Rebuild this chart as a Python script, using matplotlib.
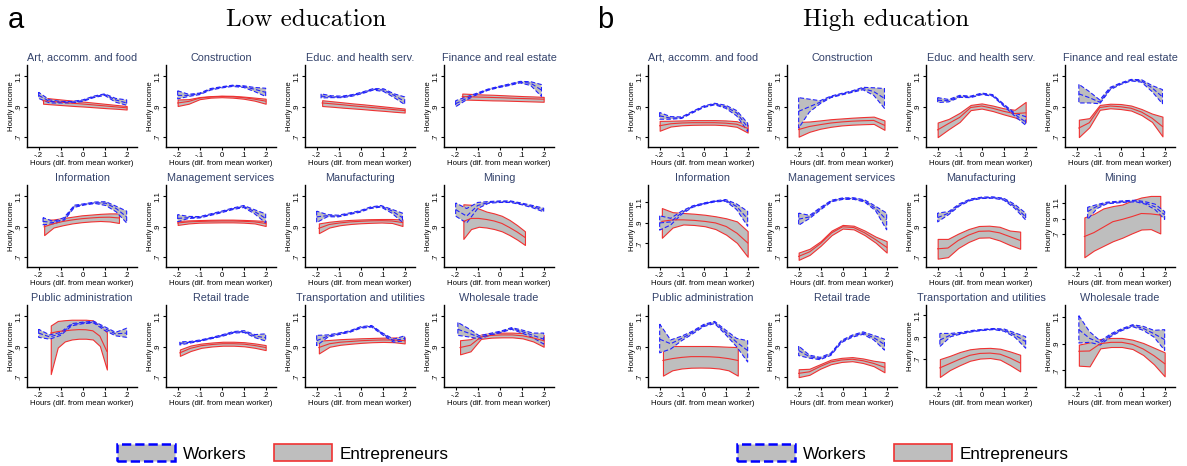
import numpy as np
import matplotlib.pyplot as plt
from matplotlib.patches import Patch

plt.rcParams['font.family'] = ['Liberation Sans', 'DejaVu Sans']

INDUSTRIES = ["Art, accomm. and food", "Construction", "Educ. and health serv.",
              "Finance and real estate", "Information", "Management services",
              "Manufacturing", "Mining", "Public administration", "Retail trade",
              "Transportation and utilities", "Wholesale trade"]

XTICKS = [-0.2, -0.1, 0, 0.1, 0.2]
XTICKLABELS = ["-.2", "-.1", "0", ".1", ".2"]
YTICKS = [0.7, 0.9, 1.1]
YTICKLABELS = [".7", ".9", "1.1"]

# each entry: x range of the estimate, then 9 evenly spaced points for
# lower bound, fitted value, upper bound
low_workers = {
    "Art, accomm. and food": dict(x=(-0.2, 0.2),
        lo=[0.955, 0.925, 0.925, 0.925, 0.935, 0.960, 0.975, 0.930, 0.910],
        mid=[0.975, 0.935, 0.930, 0.930, 0.940, 0.965, 0.980, 0.945, 0.925],
        hi=[0.995, 0.945, 0.935, 0.935, 0.945, 0.970, 0.985, 0.955, 0.945]),
    "Construction": dict(x=(-0.2, 0.2),
        lo=[0.952, 0.968, 0.980, 1.010, 1.024, 1.034, 1.027, 1.000, 0.968],
        mid=[0.975, 0.975, 0.985, 1.015, 1.028, 1.038, 1.033, 1.015, 0.995],
        hi=[1.005, 0.982, 0.990, 1.020, 1.032, 1.042, 1.038, 1.027, 1.022]),
    "Educ. and health serv.": dict(x=(-0.18, 0.2),
        lo=[0.958, 0.960, 0.960, 0.970, 0.988, 1.010, 1.000, 0.960, 0.915],
        mid=[0.970, 0.965, 0.965, 0.975, 0.993, 1.015, 1.010, 0.975, 0.935],
        hi=[0.985, 0.972, 0.970, 0.980, 0.998, 1.020, 1.018, 0.985, 0.965]),
    "Finance and real estate": dict(x=(-0.2, 0.19),
        lo=[0.900, 0.945, 0.980, 1.008, 1.026, 1.040, 1.057, 1.040, 0.968],
        mid=[0.920, 0.955, 0.985, 1.012, 1.030, 1.045, 1.062, 1.055, 1.010],
        hi=[0.940, 0.965, 0.990, 1.016, 1.034, 1.050, 1.067, 1.065, 1.046]),
    "Information": dict(x=(-0.18, 0.2),
        lo=[0.913, 0.920, 0.940, 1.028, 1.044, 1.053, 1.040, 0.998, 0.925],
        mid=[0.935, 0.928, 0.950, 1.035, 1.048, 1.058, 1.055, 1.020, 0.965],
        hi=[0.960, 0.935, 0.960, 1.042, 1.052, 1.063, 1.065, 1.035, 1.003]),
    "Management services": dict(x=(-0.2, 0.2),
        lo=[0.933, 0.955, 0.958, 0.975, 0.993, 1.013, 1.027, 0.985, 0.925],
        mid=[0.955, 0.960, 0.962, 0.980, 0.998, 1.018, 1.033, 1.000, 0.955],
        hi=[0.980, 0.968, 0.967, 0.985, 1.003, 1.023, 1.040, 1.012, 0.985]),
    "Manufacturing": dict(x=(-0.2, 0.19),
        lo=[0.928, 0.966, 0.965, 0.980, 0.995, 1.020, 1.030, 0.990, 0.930],
        mid=[0.965, 0.973, 0.970, 0.985, 1.000, 1.025, 1.035, 1.005, 0.960],
        hi=[1.003, 0.980, 0.976, 0.990, 1.005, 1.030, 1.040, 1.015, 0.990]),
    "Mining": dict(x=(-0.2, 0.2),
        lo=[0.970, 0.925, 1.020, 1.055, 1.060, 1.060, 1.045, 1.025, 0.998],
        mid=[1.013, 0.970, 1.040, 1.060, 1.065, 1.065, 1.050, 1.033, 1.010],
        hi=[1.057, 1.020, 1.060, 1.066, 1.070, 1.070, 1.056, 1.040, 1.022]),
    "Public administration": dict(x=(-0.2, 0.2),
        lo=[0.962, 0.950, 0.975, 1.038, 1.052, 1.057, 1.008, 0.972, 0.962],
        mid=[0.990, 0.965, 0.985, 1.045, 1.057, 1.062, 1.020, 0.985, 0.990],
        hi=[1.015, 0.978, 0.995, 1.052, 1.062, 1.068, 1.032, 0.995, 1.022]),
    "Retail trade": dict(x=(-0.19, 0.2),
        lo=[0.912, 0.925, 0.938, 0.954, 0.970, 0.990, 0.994, 0.960, 0.938],
        mid=[0.922, 0.930, 0.942, 0.958, 0.975, 0.995, 1.000, 0.970, 0.960],
        hi=[0.932, 0.935, 0.946, 0.962, 0.980, 1.000, 1.006, 0.980, 0.985]),
    "Transportation and utilities": dict(x=(-0.2, 0.2),
        lo=[0.908, 0.962, 0.980, 0.995, 1.022, 1.030, 0.978, 0.930, 0.940],
        mid=[0.940, 0.970, 0.985, 1.000, 1.027, 1.035, 0.985, 0.940, 0.955],
        hi=[0.975, 0.978, 0.990, 1.005, 1.032, 1.040, 0.990, 0.950, 0.972]),
    "Wholesale trade": dict(x=(-0.19, 0.2),
        lo=[0.975, 0.965, 0.952, 0.975, 0.993, 1.015, 0.990, 0.960, 0.918],
        mid=[1.015, 0.990, 0.962, 0.980, 0.998, 1.020, 1.000, 0.975, 0.950],
        hi=[1.060, 1.020, 0.972, 0.988, 1.003, 1.026, 1.010, 0.990, 0.990]),
}

low_entrepreneurs = {
    "Art, accomm. and food": dict(x=(-0.18, 0.2),
        lo=[0.920, 0.915, 0.910, 0.905, 0.901, 0.896, 0.891, 0.887, 0.882],
        mid=[0.940, 0.934, 0.928, 0.922, 0.917, 0.911, 0.905, 0.899, 0.893],
        hi=[0.960, 0.953, 0.946, 0.939, 0.933, 0.926, 0.919, 0.912, 0.905]),
    "Construction": dict(x=(-0.2, 0.2),
        lo=[0.905, 0.920, 0.950, 0.960, 0.963, 0.960, 0.953, 0.940, 0.920],
        mid=[0.925, 0.935, 0.957, 0.965, 0.968, 0.966, 0.960, 0.950, 0.937],
        hi=[0.948, 0.950, 0.964, 0.970, 0.973, 0.972, 0.967, 0.960, 0.953]),
    "Educ. and health serv.": dict(x=(-0.175, 0.2),
        lo=[0.905, 0.900, 0.894, 0.889, 0.884, 0.878, 0.873, 0.867, 0.862],
        mid=[0.925, 0.919, 0.913, 0.906, 0.900, 0.894, 0.888, 0.881, 0.875],
        hi=[0.943, 0.936, 0.929, 0.922, 0.916, 0.909, 0.902, 0.895, 0.888]),
    "Finance and real estate": dict(x=(-0.17, 0.2),
        lo=[0.948, 0.946, 0.944, 0.942, 0.941, 0.939, 0.937, 0.935, 0.933],
        mid=[0.967, 0.965, 0.963, 0.961, 0.959, 0.956, 0.954, 0.952, 0.950],
        hi=[0.987, 0.984, 0.981, 0.979, 0.976, 0.973, 0.970, 0.968, 0.965]),
    "Information": dict(x=(-0.175, 0.165),
        lo=[0.845, 0.895, 0.910, 0.922, 0.930, 0.935, 0.938, 0.935, 0.925],
        mid=[0.900, 0.920, 0.935, 0.945, 0.953, 0.958, 0.962, 0.963, 0.958],
        hi=[0.945, 0.948, 0.957, 0.966, 0.975, 0.980, 0.985, 0.988, 0.988]),
    "Management services": dict(x=(-0.2, 0.2),
        lo=[0.912, 0.922, 0.927, 0.928, 0.929, 0.929, 0.927, 0.922, 0.905],
        mid=[0.925, 0.932, 0.935, 0.937, 0.938, 0.938, 0.936, 0.932, 0.922],
        hi=[0.938, 0.942, 0.944, 0.946, 0.947, 0.947, 0.945, 0.942, 0.938]),
    "Manufacturing": dict(x=(-0.19, 0.19),
        lo=[0.858, 0.895, 0.910, 0.918, 0.923, 0.926, 0.928, 0.925, 0.905],
        mid=[0.890, 0.915, 0.925, 0.932, 0.936, 0.939, 0.940, 0.938, 0.928],
        hi=[0.922, 0.933, 0.940, 0.945, 0.948, 0.950, 0.951, 0.951, 0.948]),
    "Mining": dict(x=(-0.165, 0.115),
        lo=[0.820, 0.885, 0.900, 0.895, 0.885, 0.870, 0.845, 0.815, 0.780],
        mid=[0.935, 0.955, 0.955, 0.948, 0.938, 0.922, 0.895, 0.865, 0.830],
        hi=[1.048, 1.045, 1.020, 1.000, 0.988, 0.972, 0.945, 0.910, 0.870]),
    "Public administration": dict(x=(-0.145, 0.11),
        lo=[0.720, 0.895, 0.935, 0.948, 0.953, 0.953, 0.948, 0.905, 0.750],
        mid=[0.990, 1.000, 1.005, 1.010, 1.013, 1.012, 1.005, 0.970, 0.870],
        hi=[1.040, 1.070, 1.075, 1.078, 1.078, 1.078, 1.074, 1.040, 0.995]),
    "Retail trade": dict(x=(-0.19, 0.2),
        lo=[0.840, 0.872, 0.893, 0.902, 0.907, 0.907, 0.903, 0.893, 0.878],
        mid=[0.860, 0.890, 0.907, 0.915, 0.920, 0.920, 0.917, 0.908, 0.895],
        hi=[0.882, 0.908, 0.921, 0.928, 0.933, 0.933, 0.930, 0.922, 0.911]),
    "Transportation and utilities": dict(x=(-0.19, 0.2),
        lo=[0.856, 0.900, 0.913, 0.920, 0.926, 0.930, 0.932, 0.930, 0.922],
        mid=[0.895, 0.920, 0.930, 0.935, 0.940, 0.943, 0.945, 0.944, 0.940],
        hi=[0.940, 0.945, 0.950, 0.953, 0.956, 0.958, 0.960, 0.961, 0.961]),
    "Wholesale trade": dict(x=(-0.18, 0.2),
        lo=[0.850, 0.870, 0.952, 0.960, 0.962, 0.962, 0.955, 0.935, 0.900],
        mid=[0.895, 0.910, 0.965, 0.975, 0.978, 0.978, 0.972, 0.958, 0.940],
        hi=[0.943, 0.950, 0.980, 0.990, 0.993, 0.993, 0.990, 0.983, 0.978]),
}

high_workers = {
    "Art, accomm. and food": dict(x=(-0.2, 0.2),
        lo=[0.818, 0.818, 0.823, 0.860, 0.895, 0.913, 0.890, 0.840, 0.738],
        mid=[0.840, 0.825, 0.828, 0.865, 0.900, 0.918, 0.900, 0.860, 0.765],
        hi=[0.862, 0.835, 0.833, 0.870, 0.905, 0.923, 0.910, 0.875, 0.792]),
    "Construction": dict(x=(-0.2, 0.19),
        lo=[0.760, 0.865, 0.920, 0.960, 0.978, 0.995, 1.012, 0.975, 0.890],
        mid=[0.870, 0.900, 0.930, 0.965, 0.983, 1.000, 1.020, 1.000, 0.955],
        hi=[0.960, 0.950, 0.940, 0.970, 0.988, 1.005, 1.028, 1.025, 1.020]),
    "Educ. and health serv.": dict(x=(-0.2, 0.2),
        lo=[0.928, 0.932, 0.962, 0.960, 0.980, 0.970, 0.905, 0.840, 0.778],
        mid=[0.943, 0.940, 0.968, 0.965, 0.985, 0.975, 0.912, 0.850, 0.800],
        hi=[0.960, 0.948, 0.975, 0.970, 0.990, 0.980, 0.918, 0.858, 0.835]),
    "Finance and real estate": dict(x=(-0.19, 0.19),
        lo=[0.925, 0.925, 0.920, 1.012, 1.047, 1.070, 1.062, 1.000, 0.920],
        mid=[0.985, 0.960, 0.930, 1.020, 1.052, 1.075, 1.070, 1.025, 0.965],
        hi=[1.048, 1.000, 0.945, 1.028, 1.057, 1.080, 1.078, 1.040, 1.013]),
    "Information": dict(x=(-0.2, 0.2),
        lo=[0.830, 0.880, 0.985, 1.053, 1.082, 1.105, 1.112, 1.030, 0.868],
        mid=[0.900, 0.910, 1.000, 1.060, 1.088, 1.110, 1.120, 1.060, 0.940],
        hi=[0.970, 0.945, 1.015, 1.067, 1.094, 1.116, 1.128, 1.085, 1.013]),
    "Management services": dict(x=(-0.2, 0.2),
        lo=[0.910, 0.955, 1.012, 1.065, 1.080, 1.081, 1.063, 1.005, 0.880],
        mid=[0.950, 0.965, 1.020, 1.070, 1.085, 1.086, 1.070, 1.020, 0.945],
        hi=[0.990, 0.975, 1.028, 1.075, 1.090, 1.091, 1.077, 1.035, 0.990]),
    "Manufacturing": dict(x=(-0.2, 0.2),
        lo=[0.932, 0.980, 1.038, 1.073, 1.086, 1.088, 1.076, 1.022, 0.945],
        mid=[0.960, 0.990, 1.045, 1.078, 1.090, 1.092, 1.082, 1.035, 0.965],
        hi=[0.990, 1.000, 1.052, 1.083, 1.095, 1.097, 1.088, 1.048, 0.990]),
    "Mining": dict(x=(-0.15, 0.2),
        lo=[0.890, 1.030, 1.090, 1.100, 1.110, 1.115, 1.085, 1.015, 0.890],
        mid=[0.990, 1.060, 1.100, 1.110, 1.120, 1.125, 1.100, 1.050, 0.947],
        hi=[1.045, 1.080, 1.110, 1.120, 1.130, 1.135, 1.115, 1.085, 0.990]),
    "Public administration": dict(x=(-0.2, 0.2),
        lo=[0.860, 0.885, 0.940, 0.985, 1.033, 1.053, 0.980, 0.900, 0.800],
        mid=[0.950, 0.920, 0.955, 0.995, 1.040, 1.060, 0.995, 0.930, 0.875],
        hi=[1.050, 0.945, 0.970, 1.003, 1.047, 1.067, 1.010, 0.955, 0.940]),
    "Retail trade": dict(x=(-0.2, 0.19),
        lo=[0.842, 0.825, 0.815, 0.843, 0.928, 0.963, 0.982, 0.945, 0.878],
        mid=[0.875, 0.835, 0.822, 0.850, 0.935, 0.970, 0.990, 0.960, 0.915],
        hi=[0.905, 0.845, 0.830, 0.858, 0.942, 0.977, 0.998, 0.975, 0.950]),
    "Transportation and utilities": dict(x=(-0.19, 0.2),
        lo=[0.815, 0.905, 0.930, 0.950, 0.962, 0.970, 0.955, 0.900, 0.800],
        mid=[0.875, 0.920, 0.937, 0.955, 0.967, 0.975, 0.965, 0.920, 0.860],
        hi=[0.935, 0.935, 0.945, 0.962, 0.972, 0.980, 0.975, 0.940, 0.905]),
    "Wholesale trade": dict(x=(-0.19, 0.2),
        lo=[0.905, 0.910, 0.890, 0.955, 0.998, 1.028, 1.000, 0.950, 0.850],
        mid=[1.005, 0.940, 0.905, 0.965, 1.005, 1.035, 1.015, 0.975, 0.930],
        hi=[1.110, 0.990, 0.920, 0.975, 1.012, 1.042, 1.030, 1.000, 1.005]),
}

high_entrepreneurs = {
    "Art, accomm. and food": dict(x=(-0.2, 0.2),
        lo=[0.742, 0.770, 0.778, 0.781, 0.782, 0.782, 0.778, 0.768, 0.730],
        mid=[0.775, 0.788, 0.793, 0.795, 0.795, 0.795, 0.792, 0.785, 0.758],
        hi=[0.807, 0.808, 0.810, 0.812, 0.812, 0.812, 0.810, 0.805, 0.782]),
    "Construction": dict(x=(-0.2, 0.19),
        lo=[0.703, 0.735, 0.755, 0.768, 0.777, 0.782, 0.785, 0.787, 0.748],
        mid=[0.750, 0.770, 0.782, 0.793, 0.800, 0.805, 0.808, 0.810, 0.778],
        hi=[0.800, 0.803, 0.810, 0.818, 0.823, 0.828, 0.832, 0.835, 0.810]),
    "Educ. and health serv.": dict(x=(-0.2, 0.2),
        lo=[0.700, 0.752, 0.800, 0.878, 0.888, 0.872, 0.850, 0.830, 0.800],
        mid=[0.748, 0.790, 0.830, 0.895, 0.905, 0.890, 0.870, 0.855, 0.860],
        hi=[0.796, 0.820, 0.860, 0.912, 0.922, 0.908, 0.890, 0.880, 0.932]),
    "Finance and real estate": dict(x=(-0.19, 0.19),
        lo=[0.700, 0.765, 0.880, 0.890, 0.885, 0.875, 0.845, 0.800, 0.705],
        mid=[0.760, 0.795, 0.895, 0.905, 0.900, 0.890, 0.865, 0.825, 0.770],
        hi=[0.815, 0.825, 0.912, 0.920, 0.918, 0.908, 0.885, 0.855, 0.835]),
    "Information": dict(x=(-0.19, 0.2),
        lo=[0.755, 0.855, 0.885, 0.880, 0.868, 0.840, 0.785, 0.705, 0.570],
        mid=[0.915, 0.930, 0.930, 0.925, 0.915, 0.900, 0.865, 0.800, 0.705],
        hi=[1.045, 1.005, 0.997, 0.990, 0.980, 0.965, 0.945, 0.915, 0.820]),
    "Management services": dict(x=(-0.2, 0.2),
        lo=[0.682, 0.715, 0.775, 0.845, 0.888, 0.883, 0.845, 0.795, 0.730],
        mid=[0.705, 0.735, 0.790, 0.860, 0.900, 0.895, 0.860, 0.815, 0.765],
        hi=[0.730, 0.755, 0.805, 0.875, 0.912, 0.907, 0.875, 0.835, 0.805]),
    "Manufacturing": dict(x=(-0.2, 0.175),
        lo=[0.690, 0.700, 0.760, 0.800, 0.828, 0.830, 0.810, 0.780, 0.755],
        mid=[0.755, 0.760, 0.810, 0.845, 0.870, 0.872, 0.860, 0.835, 0.810],
        hi=[0.820, 0.820, 0.855, 0.885, 0.905, 0.907, 0.900, 0.875, 0.868]),
    "Mining": dict(x=(-0.165, 0.18),
        lo=[0.405, 0.490, 0.550, 0.610, 0.655, 0.710, 0.760, 0.765, 0.710],
        mid=[0.670, 0.720, 0.790, 0.860, 0.890, 0.925, 0.965, 0.960, 0.945],
        hi=[0.915, 0.960, 1.030, 1.060, 1.080, 1.130, 1.170, 1.190, 1.190]),
    "Public administration": dict(x=(-0.185, 0.155),
        lo=[0.710, 0.745, 0.757, 0.762, 0.763, 0.762, 0.757, 0.745, 0.710],
        mid=[0.810, 0.822, 0.830, 0.835, 0.835, 0.834, 0.830, 0.822, 0.810],
        hi=[0.905, 0.905, 0.905, 0.905, 0.905, 0.905, 0.903, 0.900, 0.898]),
    "Retail trade": dict(x=(-0.2, 0.19),
        lo=[0.700, 0.715, 0.755, 0.785, 0.800, 0.805, 0.793, 0.772, 0.732],
        mid=[0.725, 0.735, 0.770, 0.800, 0.813, 0.818, 0.808, 0.790, 0.765],
        hi=[0.752, 0.755, 0.785, 0.815, 0.827, 0.832, 0.823, 0.808, 0.798]),
    "Transportation and utilities": dict(x=(-0.19, 0.175),
        lo=[0.537, 0.600, 0.645, 0.685, 0.705, 0.710, 0.695, 0.645, 0.588],
        mid=[0.620, 0.660, 0.700, 0.735, 0.752, 0.755, 0.745, 0.710, 0.665],
        hi=[0.700, 0.730, 0.765, 0.790, 0.800, 0.803, 0.795, 0.770, 0.740]),
    "Wholesale trade": dict(x=(-0.19, 0.2),
        lo=[0.735, 0.730, 0.865, 0.875, 0.875, 0.860, 0.815, 0.745, 0.655],
        mid=[0.843, 0.845, 0.900, 0.910, 0.910, 0.895, 0.860, 0.810, 0.750],
        hi=[0.893, 0.910, 0.935, 0.943, 0.943, 0.930, 0.905, 0.870, 0.835]),
}

DEFAULT_YLIM = (0.635, 1.175)
high_ylim = {"Information": (0.47, 1.27), "Mining": (0.28, 1.33),
             "Transportation and utilities": (0.445, 1.195),
             "Wholesale trade": (0.575, 1.19)}

GRAY = '#bebebe'
BLUE = '#2222ff'
RED = '#f03232'
TITLE_COLOR = '#33426b'

W, H = 1187, 466
fig = plt.figure(figsize=(W / 100, H / 100), dpi=100)

AX_W, AX_H = 110, 82
col_left = {'low': [27, 166, 305, 444], 'high': [648, 787, 926, 1065]}
row_top = [65, 185, 305]


def draw_band(ax, d, color, ls, lw):
    xs = np.linspace(d['x'][0], d['x'][1], len(d['mid']))
    ax.fill_between(xs, d['lo'], d['hi'], facecolor=GRAY, edgecolor=color,
                    linestyle=ls, linewidth=lw, zorder=2)
    ax.plot(xs, d['mid'], color=color, ls=ls, lw=lw, zorder=3)


groups = [('low', low_workers, low_entrepreneurs, {}),
          ('high', high_workers, high_entrepreneurs, high_ylim)]

for key, workers, entre, ylims in groups:
    for i, name in enumerate(INDUSTRIES):
        left = col_left[key][i % 4]
        top = row_top[i // 4]
        ax = fig.add_axes([left / W, 1 - (top + AX_H) / H, AX_W / W, AX_H / H])
        draw_band(ax, entre[name], RED, '-', 0.8)
        draw_band(ax, workers[name], BLUE, (0, (4, 2)), 0.8)
        ax.set_xlim(-0.253, 0.247)
        ax.set_ylim(*ylims.get(name, DEFAULT_YLIM))
        ax.set_xticks(XTICKS)
        ax.set_xticklabels(XTICKLABELS)
        ax.set_yticks(YTICKS)
        ax.set_yticklabels(YTICKLABELS, rotation=90, va='center')
        ax.tick_params(length=2.5, width=0.8, labelsize=5.6, pad=1, colors='black')
        for s in ['top', 'right']:
            ax.spines[s].set_visible(False)
        for s in ['left', 'bottom']:
            ax.spines[s].set_linewidth(1.0)
        ax.set_xlabel('Hours (dif. from mean worker)', fontsize=5.6, labelpad=1)
        ax.set_ylabel('Hourly income', fontsize=5.6, labelpad=0)
        ax.set_title(name, fontsize=7.8, color=TITLE_COLOR, pad=3)

fig.text(8 / W, 1 - 20 / H, 'a', fontsize=21, ha='left', va='center')
fig.text(597 / W, 1 - 20 / H, 'b', fontsize=21, ha='left', va='center')
fig.text(306 / W, 1 - 20 / H, 'Low education', family='cmr10', fontsize=18,
         ha='center', va='center')
fig.text(886 / W, 1 - 20 / H, 'High education', family='cmr10', fontsize=18,
         ha='center', va='center')

handles = [Patch(facecolor=GRAY, edgecolor='blue', linestyle='--', linewidth=1.8),
           Patch(facecolor=GRAY, edgecolor=RED, linewidth=1.2)]
labels = ['Workers', 'Entrepreneurs']
for cx in [283, 903]:
    fig.legend(handles, labels, loc='center', bbox_to_anchor=(cx / W, 1 - 453 / H),
               ncol=2, frameon=False, fontsize=12.3, handlelength=3.4,
               handleheight=1.1, handletextpad=0.45, columnspacing=1.6)

fig.savefig('out.png', dpi=100)
